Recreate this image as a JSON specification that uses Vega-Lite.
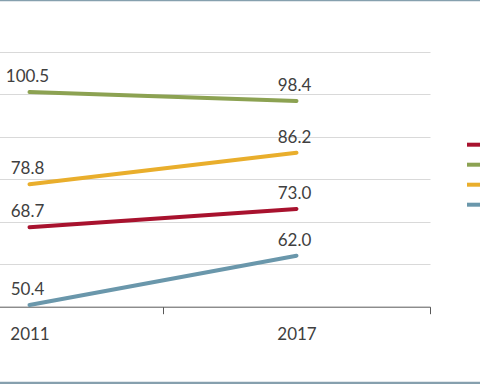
{
  "$schema": "https://vega.github.io/schema/vega-lite/v6.json",
  "width": 484,
  "height": 383,
  "autosize": {"type": "none"},
  "padding": {"left": -2, "right": -2, "top": 0, "bottom": 1},
  "background": "white",
  "config": {
    "view": {"stroke": "#86a0ae", "strokeWidth": 2.5},
    "font": "Lato"
  },
  "data": {
    "values": [
      {"year": "2011", "series": "Series 1", "value": 68.7},
      {"year": "2017", "series": "Series 1", "value": 73.0},
      {"year": "2011", "series": "Series 2", "value": 100.5},
      {"year": "2017", "series": "Series 2", "value": 98.4},
      {"year": "2011", "series": "Series 3", "value": 78.8},
      {"year": "2017", "series": "Series 3", "value": 86.2},
      {"year": "2011", "series": "Series 4", "value": 50.4},
      {"year": "2017", "series": "Series 4", "value": 62.0}
    ]
  },
  "encoding": {
    "x": {
      "field": "year",
      "type": "ordinal",
      "scale": {"type": "band", "paddingInner": 0, "paddingOuter": 0, "range": [-102, 432]},
      "axis": {
        "title": null,
        "orient": "bottom",
        "offset": -76.3,
        "tickBand": "extent",
        "grid": false,
        "domainColor": "#595959",
        "domainWidth": 1,
        "tickColor": "#595959",
        "tickWidth": 1,
        "tickSize": 7,
        "labelAngle": 0,
        "labelFontSize": 17,
        "labelColor": "#404040",
        "labelPadding": 13,
        "labelFont": "Lato"
      }
    },
    "y": {
      "field": "value",
      "type": "quantitative",
      "scale": {"domain": [50, 110], "range": [306.7, 51.7], "nice": false, "zero": false},
      "axis": {
        "title": null,
        "domain": false,
        "ticks": false,
        "labels": false,
        "grid": true,
        "gridColor": "#d9d9d9",
        "gridWidth": 1,
        "values": [60, 70, 80, 90, 100, 110]
      }
    }
  },
  "layer": [
    {
      "mark": {"type": "line", "strokeWidth": 4, "strokeCap": "round"},
      "encoding": {
        "color": {
          "field": "series",
          "type": "nominal",
          "scale": {
            "domain": ["Series 1", "Series 2", "Series 3", "Series 4"],
            "range": ["#a8122e", "#8ca252", "#e9ae2c", "#6a97ab"]
          },
          "legend": {
            "orient": "none",
            "legendX": 467,
            "legendY": 132.7,
            "title": null,
            "symbolType": "stroke",
            "symbolStrokeWidth": 4,
            "symbolSize": 400,
            "padding": 0,
            "rowPadding": 0,
            "labelFontSize": 14,
            "labelOffset": 8,
            "labelColor": "#404040"
          }
        }
      }
    },
    {
      "mark": {"type": "text", "dy": -10, "dx": -2, "baseline": "alphabetic", "fontSize": 17, "color": "#404040", "font": "Lato"},
      "encoding": {
        "text": {"field": "value", "type": "quantitative", "format": ".1f"}
      }
    }
  ]
}
